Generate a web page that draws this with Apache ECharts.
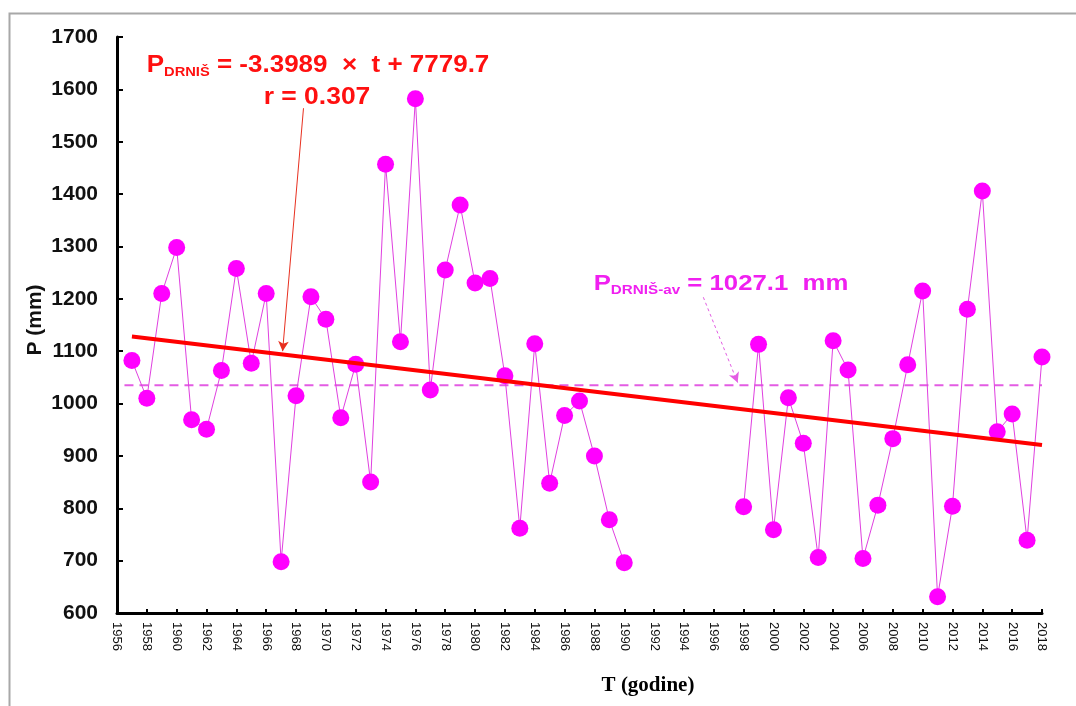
<!DOCTYPE html>
<html>
<head>
<meta charset="utf-8">
<script src="https://cdn.jsdelivr.net/npm/echarts@6/dist/echarts.min.js"></script>
<style>html,body{margin:0;padding:0;background:#fff;}#c{width:1076px;height:706px;}</style>
</head>
<body>
<div id="c"></div>
<script>
// ---- data ----
const years = [1957,1958,1959,1960,1961,1962,1963,1964,1965,1966,1967,1968,1969,1970,1971,1972,1973,1974,1975,1976,1977,1978,1979,1980,1981,1982,1983,1984,1985,1986,1987,1988,1989,1990,1991,1992,1993,1994,1995,1996,1997,1998,1999,2000,2001,2002,2003,2004,2005,2006,2007,2008,2009,2010,2011,2012,2013,2014,2015,2016,2017,2018];
const precip = [1082,1010,1210,1298,969,951,1063,1258,1077,1210,698,1015,1204,1161,973,1075,850,1457,1118,1582,1026,1255,1379,1230,1239,1053,762,1114,848,977,1005,900,778,696,null,null,null,null,null,null,null,803,1113,759,1011,924,706,1120,1064,704,806,933,1074,1215,631,804,1180,1406,946,980,739,1089];
const trendYears = [1957, 2018];
const trendValues = [1128, 921];
const meanSpan = [1956.5, 2018];
const meanValue = 1035;
const yTicks = {min: 600, max: 1700, interval: 100};
const xTicks = {min: 1956, max: 2018, interval: 2};
// annotation arrows (data coordinates)
const trendArrow = [[1968.5, 1564], [1967.1, 1100]];
const meanArrow = [[1995.3, 1203], [1997.6, 1040]];

const chart = echarts.init(document.getElementById('c'));
const font = '"Liberation Sans", Arial, sans-serif';
const serif = '"Liberation Serif", "Times New Roman", serif';
const option = {
  backgroundColor: '#fff',
  animation: false,
  grid: {left: 117, right: 34, top: 37, bottom: 93},
  xAxis: {
    type: 'value', min: xTicks.min, max: xTicks.max, interval: xTicks.interval,
    axisLine: {lineStyle: {color: '#000', width: 3}},
    axisTick: {inside: true, length: 4, lineStyle: {color: '#000', width: 2}},
    splitLine: {show: false},
    axisLabel: {rotate: -90, fontFamily: font, fontSize: 13, color: '#111', margin: 9,
      formatter: v => String(v)}
  },
  yAxis: {
    type: 'value', min: yTicks.min, max: yTicks.max, interval: yTicks.interval,
    axisLine: {show: true, lineStyle: {color: '#000', width: 3}},
    axisTick: {show: true, inside: true, length: 6, lineStyle: {color: '#000', width: 2}},
    splitLine: {show: false},
    axisLabel: {fontFamily: font, fontSize: 21, fontWeight: 'bold', color: '#111', margin: 19,
      formatter: v => String(v)}
  },
  series: [
    {
      type: 'line', name: 'mean', silent: true, symbol: 'none', z: 2,
      data: meanSpan.map(x => [x, meanValue]),
      lineStyle: {color: '#e35ce3', width: 2, type: [9, 6]},
      markLine: {
        silent: true, symbol: ['none', 'arrow'], symbolSize: [8, 10],
        label: {show: false},
        lineStyle: {color: '#e35ce3', width: 1, type: [3, 3]},
        data: [[{coord: meanArrow[0]}, {coord: meanArrow[1]}]]
      }
    },
    {
      type: 'line', name: 'P', z: 3,
      data: years.map((y, i) => [y, precip[i]]),
      connectNulls: false,
      symbol: 'circle', symbolSize: 17,
      itemStyle: {color: '#ff00ff'},
      lineStyle: {color: '#e040e0', width: 1}
    },
    {
      type: 'line', name: 'trend', silent: true, symbol: 'none', z: 4,
      data: trendYears.map((y, i) => [y, trendValues[i]]),
      lineStyle: {color: '#ff0000', width: 4},
      markLine: {
        silent: true, symbol: ['none', 'arrow'], symbolSize: [8, 10],
        label: {show: false},
        lineStyle: {color: '#e83020', width: 1, type: 'solid'},
        data: [[{coord: trendArrow[0]}, {coord: trendArrow[1]}]]
      }
    }
  ],
  graphic: [
    {type: 'rect', left: 7, top: 11, shape: {width: 1100, height: 720},
      style: {fill: 'none', stroke: '#a8a8a8', lineWidth: 2}, z: -1, silent: true},
    {type: 'text', x: 318, y: 63, scaleX: 1.13, style: {
      text: '{p|P}{s|DRNIŠ}{p| = -3.3989  ×  t + 7779.7}',
      align: 'center', verticalAlign: 'middle',
      rich: {
        p: {fontFamily: font, fontWeight: 'bold', fontSize: 23, fill: '#ff1010', lineHeight: 28, verticalAlign: 'bottom'},
        s: {fontFamily: font, fontWeight: 'bold', fontSize: 13, fill: '#ff1010', lineHeight: 14, verticalAlign: 'bottom', padding: [0, 0, -2, 0]}
      }
    }},
    {type: 'text', x: 317, y: 98, scaleX: 1.15, style: {
      text: 'r = 0.307', align: 'center', verticalAlign: 'middle',
      font: 'bold 23px ' + font, fill: '#ff1010'
    }},
    {type: 'text', x: 721, y: 281, scaleX: 1.17, style: {
      text: '{p|P}{s|DRNIŠ-av}{p| = 1027.1  mm}',
      align: 'center', verticalAlign: 'middle',
      rich: {
        p: {fontFamily: font, fontWeight: 'bold', fontSize: 22, fill: '#f020f0', lineHeight: 28, verticalAlign: 'bottom'},
        s: {fontFamily: font, fontWeight: 'bold', fontSize: 13, fill: '#f020f0', lineHeight: 14, verticalAlign: 'bottom', padding: [0, 0, -2, 0]}
      }
    }},
    {type: 'text', x: 35, y: 320, rotation: Math.PI / 2, style: {
      text: 'P (mm)', align: 'center', verticalAlign: 'middle',
      font: 'bold 21px ' + font, fill: '#111'
    }},
    {type: 'text', x: 648, y: 686, style: {
      text: 'T (godine)', align: 'center', verticalAlign: 'middle',
      font: 'bold 21px ' + serif, fill: '#000'
    }}
  ]
};
chart.setOption(option);
</script>
</body>
</html>
